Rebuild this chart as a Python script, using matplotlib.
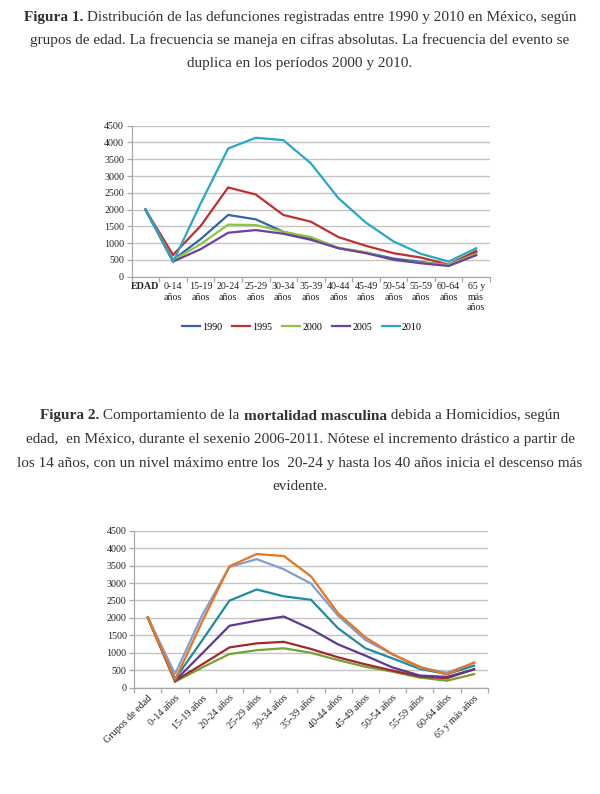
import numpy as np
import matplotlib
matplotlib.use("Agg")
import matplotlib.pyplot as plt
from matplotlib.lines import Line2D

# ---- data: figure 1 (defunciones por grupo de edad, 1990-2010)
cats1 = ["EDAD", "0-14\naños", "15-19\naños", "20-24\naños", "25-29\naños",
         "30-34\naños", "35-39\naños", "40-44\naños", "45-49\naños",
         "50-54\naños", "55-59\naños", "60-64\naños", "65 y\nmás\naños"]
years1 = ["1990", "1995", "2000", "2005", "2010"]
v1990 = [1990, 500, 1120, 1840, 1710, 1340, 1140, 850, 720, 540, 440, 340, 730]
v1995 = [1995, 650, 1510, 2660, 2450, 1840, 1640, 1180, 920, 700, 570, 360, 770]
v2000 = [2000, 490, 970, 1550, 1540, 1340, 1180, 860, 730, 490, 420, 350, 680]
v2005 = [2005, 450, 820, 1310, 1390, 1280, 1100, 850, 700, 510, 400, 320, 640]
v2010 = [2010, 440, 2180, 3820, 4140, 4070, 3380, 2340, 1610, 1050, 680, 450, 850]
colors1 = ["#2f64b0", "#c0302e", "#8cc63f", "#6f3fa0", "#27a7c9"]

# ---- data: figure 2 (mortalidad masculina por homicidio, 2006-2011)
cats2 = ["Grupos de edad", "0-14 años", "15-19 años", "20-24 años", "25-29 años",
         "30-34 años", "35-39 años", "40-44 años", "45-49 años", "50-54 años",
         "55-59 años", "60-64 años", "65 y más años"]
s_green = [2006, 170, 580, 965, 1075, 1130, 1000, 790, 600, 460, 290, 200, 390]
s_red = [2007, 200, 670, 1155, 1270, 1315, 1110, 870, 670, 490, 320, 270, 530]
s_purple = [2008, 200, 985, 1775, 1920, 2040, 1680, 1240, 920, 580, 350, 310, 525]
s_teal = [2009, 250, 1360, 2495, 2815, 2620, 2520, 1700, 1130, 840, 540, 390, 630]
s_orange = [2010, 220, 1900, 3480, 3830, 3775, 3190, 2130, 1445, 960, 600, 380, 725]
s_lblue = [2011, 390, 2080, 3460, 3685, 3395, 2985, 2060, 1370, 955, 575, 430, 710]
series2 = [s_green, s_red, s_purple, s_teal, s_lblue, s_orange]
colors2 = ["#75a233", "#a3282c", "#5d3a8e", "#1f8aa1", "#7f9fd4", "#e8741d"]

cap1 = [
    [("Figura 1.", "bold"), (" Distribución de las defunciones registradas entre 1990 y 2010 en México, según", "normal")],
    [("grupos de edad. La frecuencia se maneja en cifras absolutas. La frecuencia del evento se", "normal")],
    [("duplica en los períodos 2000 y 2010.", "normal")],
]
cap2 = [
    [("Figura 2.", "bold"), (" Comportamiento de la ", "normal"), ("mortalidad masculina", "bold"),
     (" debida a Homicidios, según", "normal")],
    [("edad,  en México, durante el sexenio 2006-2011. Nótese el incremento drástico a partir de", "normal")],
    [("los 14 años, con un nivel máximo entre los  20-24 y hasta los 40 años inicia el descenso más", "normal")],
    [("evidente.", "normal")],
]

W, H = 600, 794
fig = plt.figure(figsize=(W / 100, H / 100), dpi=100)
fig.patch.set_facecolor("white")
renderer = fig.canvas.get_renderer()

CAP_FONT = ["Liberation Serif"]
CAP_COLOR = "#333333"
TICK_FONT = ["Liberation Serif"]
TICK_SIZE = 7.2


def line_width(parts, size):
    total = 0
    for s, w in parts:
        t = fig.text(0, 0, s, fontsize=size, fontweight=w, family=CAP_FONT)
        total += t.get_window_extent(renderer).width
        t.remove()
    return total


# fit caption size so the first line spans the same width as in the page
CAP_SIZE = 10.5 * 552 / line_width(cap1[0], 10.5)


def caption_line(y_px, parts):
    texts, widths = [], []
    for s, w in parts:
        t = fig.text(0, 1 - y_px / H, s, fontsize=CAP_SIZE, fontweight=w,
                     family=CAP_FONT, color=CAP_COLOR, va="center", ha="left")
        texts.append(t)
        widths.append(t.get_window_extent(renderer).width)
    x = (W - sum(widths)) / 2
    for t, wd in zip(texts, widths):
        t.set_x(x / W)
        x += wd


for i, line in enumerate(cap1):
    caption_line(17 + i * 23, line)
for i, line in enumerate(cap2):
    caption_line(416 + i * 23.5, line)


def style_axes(ax):
    n = 13
    ax.set_xlim(-0.5, n - 0.5)
    ax.set_ylim(0, 4500)
    ax.set_yticks(np.arange(0, 4501, 500))
    ax.yaxis.grid(True, color="#c4c4c4", lw=1.0)
    ax.set_axisbelow(True)
    for sp in ["top", "right"]:
        ax.spines[sp].set_visible(False)
    for sp in ["left", "bottom"]:
        ax.spines[sp].set_color("#a8a8a8")
        ax.spines[sp].set_linewidth(0.9)
    ax.set_xticks(np.arange(n))
    ax.set_xticks(np.arange(n + 1) - 0.5, minor=True)
    ax.tick_params(axis="x", which="major", length=0, pad=4)
    ax.tick_params(axis="x", which="minor", length=3.5, color="#a8a8a8", width=0.9)
    ax.tick_params(axis="y", length=3.5, color="#a8a8a8", width=0.9, pad=2)
    for lab in ax.get_yticklabels():
        lab.set_family(TICK_FONT)
        lab.set_fontsize(TICK_SIZE)
        lab.set_color("#222222")


# ---- figure 1 chart
ax1 = fig.add_axes([131.7 / W, 1 - 276.7 / H, (490 - 131.7) / W, (276.7 - 125.7) / H])
x = np.arange(len(cats1))
for vals, c, lab in zip([v1990, v1995, v2000, v2005, v2010], colors1, years1):
    ax1.plot(x, vals, color=c, lw=1.6, label=lab, solid_joinstyle="miter")
style_axes(ax1)
ax1.set_xticklabels(cats1, family=TICK_FONT, fontsize=TICK_SIZE, color="#222222",
                    va="top", linespacing=1.2)
ax1.get_xticklabels()[0].set_fontweight("bold")

handles = [Line2D([], [], color=c, lw=1.6) for c in colors1]
fig.legend(handles, years1, loc="center", bbox_to_anchor=(302 / W, 1 - 327 / H),
           ncol=5, frameon=False, handlelength=1.8, handletextpad=0.2,
           columnspacing=1.0, prop={"family": TICK_FONT, "size": TICK_SIZE})

# ---- figure 2 chart
ax2 = fig.add_axes([134.3 / W, 1 - 687.7 / H, (487.7 - 134.3) / W, (687.7 - 530.7) / H])
x2 = np.arange(len(cats2))
for vals, c in zip(series2, colors2):
    ax2.plot(x2, vals, color=c, lw=1.6, solid_joinstyle="miter")
style_axes(ax2)
ax2.set_xticklabels(cats2, family=TICK_FONT, fontsize=TICK_SIZE, color="#222222",
                    rotation=45, ha="right", rotation_mode="anchor")

fig.savefig("out.png", dpi=100, facecolor="white")
